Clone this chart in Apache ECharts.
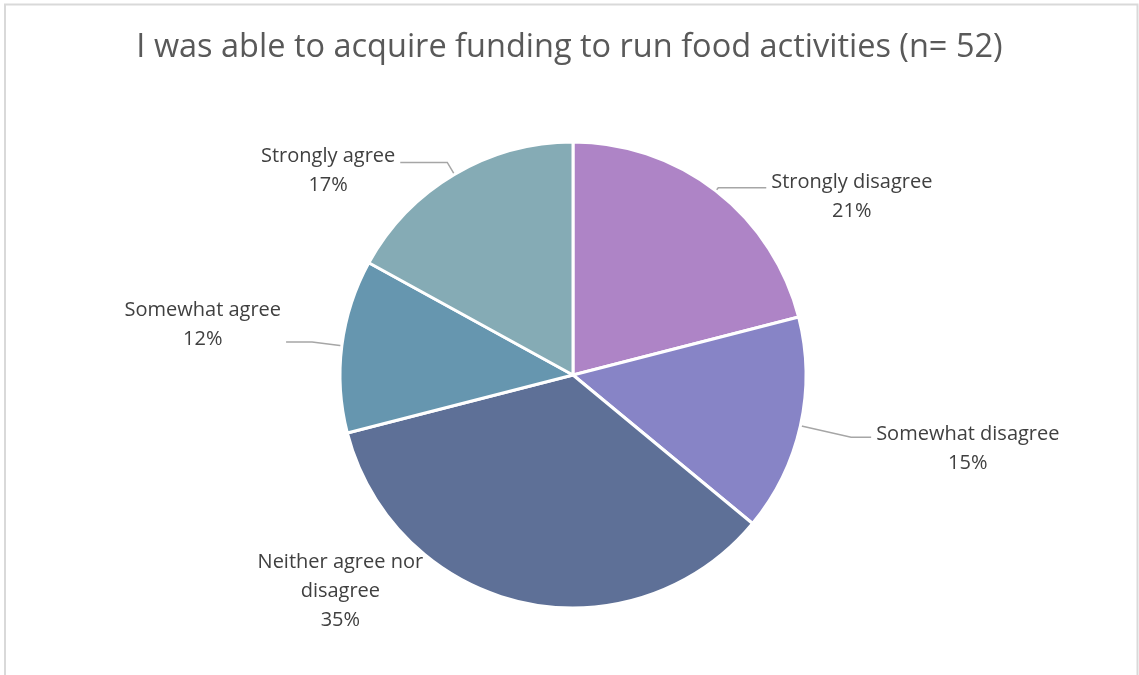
<!DOCTYPE html>
<html>
<head>
<meta charset="utf-8">
<style>
  html, body { margin: 0; padding: 0; background: #ffffff; }
  #chart { width: 1139px; height: 675px; }
</style>
<script src="https://cdn.jsdelivr.net/npm/echarts@6/dist/echarts.min.js"></script>
</head>
<body>
<div id="chart"></div>
<script>
// Survey responses (percent of n = 52), clockwise from 12 o'clock
const categories = ['Strongly disagree', 'Somewhat disagree', 'Neither agree nor disagree', 'Somewhat agree', 'Strongly agree'];
const percents = [21, 15, 35, 12, 17];
const sliceColors = ['#AE84C6', '#8784C6', '#5E7097', '#6696AF', '#85ABB5'];
const titleText = 'I was able to acquire funding to run food activities (n= 52)';

// Leader-line geometry and label nudge per slice
const leader = [
  { length: 4,  length2: 48, show: true,  padding: [18, 0, 0, 0] },
  { length: 52, length2: 20, show: true,  padding: [24, 0, 0, 0] },
  { length: 0,  length2: 94, show: false, padding: [0, 0, 22, 0] },
  { length: 30, length2: 26, show: true,  padding: [0, 0, 34, 0] },
  { length: 14, length2: 47, show: true,  padding: [16, 0, 0, 0] }
];

// Wrap long category names onto several lines
function wrapName(name, maxChars) {
  const words = name.split(' ');
  const lines = [];
  let cur = '';
  words.forEach(w => {
    const next = cur ? cur + ' ' + w : w;
    if (next.length > maxChars && cur) { lines.push(cur); cur = w; }
    else { cur = next; }
  });
  if (cur) lines.push(cur);
  return lines;
}

const chart = echarts.init(document.getElementById('chart'), null, { renderer: 'canvas' });

const seriesData = categories.map((name, i) => ({
  name: name,
  value: percents[i],
  itemStyle: { color: sliceColors[i] },
  label: { padding: leader[i].padding },
  labelLine: { show: leader[i].show, length: leader[i].length, length2: leader[i].length2 }
}));

chart.setOption({
  backgroundColor: '#ffffff',
  animation: false,
  graphic: [{
    type: 'rect',
    silent: true,
    shape: { x: 5, y: 4.5, width: 1132.5, height: 720 },
    style: { fill: 'none', stroke: '#d9d9d9', lineWidth: 2 }
  }],
  title: {
    text: titleText,
    left: 'center',
    top: 26,
    textStyle: {
      fontFamily: 'Open Sans',
      fontSize: 32.5,
      fontWeight: 'normal',
      color: '#595959'
    }
  },
  series: [{
    type: 'pie',
    center: [573, 375],
    radius: 233,
    startAngle: 90,
    clockwise: true,
    avoidLabelOverlap: false,
    itemStyle: { borderColor: '#ffffff', borderWidth: 3 },
    label: {
      show: true,
      position: 'outside',
      formatter: p => wrapName(p.name, 18)
        .concat([Math.round(p.percent) + '%'])
        .map(s => '{t|' + s + '}')
        .join('\n'),
      rich: {
        t: {
          align: 'center',
          fontFamily: 'Open Sans',
          fontSize: 20,
          lineHeight: 29,
          color: '#404040'
        }
      }
    },
    labelLine: {
      smooth: false,
      lineStyle: { color: '#a6a6a6', width: 1.5 }
    },
    data: seriesData
  }]
});
</script>
</body>
</html>
